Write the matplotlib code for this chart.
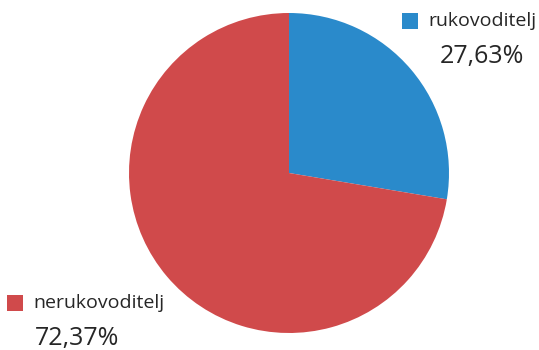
import matplotlib
matplotlib.use("Agg")
import matplotlib.pyplot as plt
from matplotlib.patches import Rectangle

labels = ["rukovoditelj", "nerukovoditelj"]
values = [27.63, 72.37]
colors = ["#2A8ACB", "#D04A4B"]

W, H = 539, 350
fig = plt.figure(figsize=(W / 100, H / 100), dpi=100)
plt.rcParams["font.family"] = ["Open Sans", "DejaVu Sans"]

# pie centred at (289, 173) px, radius 160 px
cx, cy, r = 289, 173, 160
ax = fig.add_axes([(cx - r) / W, (H - cy - r) / H, 2 * r / W, 2 * r / H])
ax.pie(values, colors=colors, startangle=90, counterclock=False,
       wedgeprops=dict(linewidth=0))
ax.set_xlim(-1, 1)
ax.set_ylim(-1, 1)
ax.set_aspect("auto")
ax.axis("off")


def px(x, y):
    return x / W, 1 - y / H


# label positions (pixels, top-left origin)
label_pos = [
    dict(box=(402, 13), name=(428, 21), pct=(440, 57)),
    dict(box=(7, 295), name=(33, 303), pct=(35, 339)),
]

for lab, val, col, p in zip(labels, values, colors, label_pos):
    bx, by = p["box"]
    fig.add_artist(Rectangle(px(bx, by + 16), 16 / W, 16 / H,
                             transform=fig.transFigure, color=col, lw=0))
    fig.text(*px(*p["name"]), lab, fontsize=14, color="#262626",
             ha="left", va="center")
    fig.text(*px(*p["pct"]), f"{val:.2f}%".replace(".", ","), fontsize=18,
             color="#262626", ha="left", va="center")

fig.savefig("out.png", dpi=100)
